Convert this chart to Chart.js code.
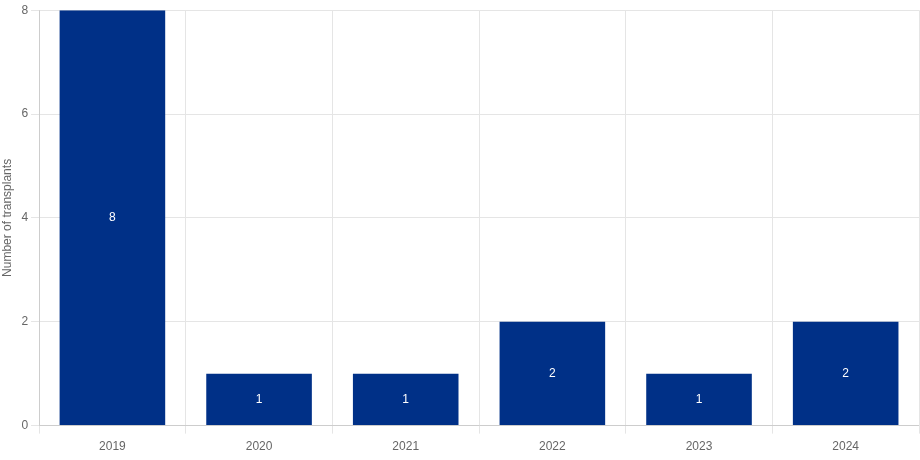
<!DOCTYPE html>
<html><head><meta charset="utf-8">
<script src="https://cdn.jsdelivr.net/npm/chart.js@4"></script>
<style>html,body{margin:0;padding:0;background:#fff}#w{width:920px;height:460px}</style>
</head><body><div id="w"><canvas id="c"></canvas></div>
<script>
const categories = ["2019","2020","2021","2022","2023","2024"];
const transplants = [8,1,1,2,1,2];
const yTicks = [0,2,4,6,8];

const labelPlugin = {
  id:'lbl',
  afterDatasetsDraw(chart){
    const ctx = chart.ctx;
    const meta = chart.getDatasetMeta(0);
    ctx.save();
    ctx.fillStyle='#fff';
    ctx.font='12px "Liberation Sans", Arial, sans-serif';
    ctx.textAlign='center';ctx.textBaseline='middle';
    meta.data.forEach((b,i)=>{
      ctx.fillText(String(transplants[i]), b.x, (b.y+b.base)/2);
    });
    ctx.restore();
  }
};

Chart.defaults.font.family='"Liberation Sans", Arial, sans-serif';
Chart.defaults.font.size=12;
Chart.defaults.color='#666';
new Chart(document.getElementById('c'),{
  type:'bar',
  data:{labels:categories,datasets:[{data:transplants,backgroundColor:'#003087'}]},
  options:{
    responsive:true,maintainAspectRatio:false,animation:false,
    layout:{padding:{top:10,right:1}},
    plugins:{legend:{display:false},tooltip:{enabled:false}},
    scales:{
      x:{grid:{color:'#e5e5e5',offset:true},ticks:{padding:6}},
      y:{min:0,max:8,afterBuildTicks(a){a.ticks=yTicks.map(v=>({value:v}));},
         grid:{color:'#e5e5e5'},
         title:{display:true,text:'Number of transplants',padding:{top:0,bottom:4}}}
    }
  },
  plugins:[labelPlugin]
});
</script></body></html>
